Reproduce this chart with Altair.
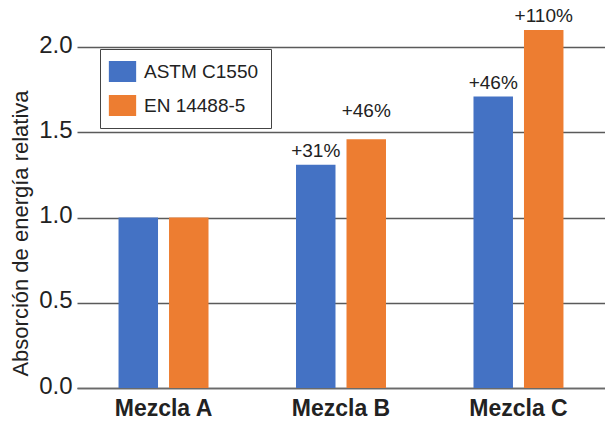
import altair as alt
import pandas as pd

mezclas = ["Mezcla A", "Mezcla B", "Mezcla C"]
normas = ["ASTM C1550", "EN 14488-5"]
astm_values = [1.00, 1.31, 1.71]
en_values = [1.00, 1.46, 2.10]
astm_labels = ["", "+31%", "+46%"]
en_labels = ["", "+46%", "+110%"]
colors = ["#4472C4", "#ED7D31"]

rows = []
for m, v, l in zip(mezclas, astm_values, astm_labels):
    rows.append({"mezcla": m, "norma": normas[0], "valor": v, "etiqueta": l})
for m, v, l in zip(mezclas, en_values, en_labels):
    rows.append({"mezcla": m, "norma": normas[1], "valor": v, "etiqueta": l})
df = pd.DataFrame(rows)

FONT = "Liberation Sans"

x_enc = alt.X("mezcla:N", sort=mezclas,
              scale=alt.Scale(paddingInner=0.493, paddingOuter=0.234),
              axis=alt.Axis(title=None, labelAngle=0, ticks=False, domain=True, grid=False,
                            domainColor="#6a6a6a", domainWidth=1.5,
                            labelFontSize=23, labelFontWeight="bold",
                            labelColor="#222222", labelFont=FONT, labelPadding=9))
xoff = alt.XOffset("norma:N", sort=normas, scale=alt.Scale(paddingInner=0.218, paddingOuter=0))
y_enc = alt.Y("valor:Q", scale=alt.Scale(domain=[0, 2.2], nice=False),
              axis=alt.Axis(values=[0, 0.5, 1.0, 1.5, 2.0], format=".1f",
                            title="Absorción de energía relativa",
                            titleFont=FONT, titleFontSize=22, titleFontWeight="normal",
                            titleColor="#222222", titleAngle=-90, titleX=-57, titleY=220,
                            titleAlign="center", titleBaseline="middle",
                            labelFont=FONT, labelFontSize=24, labelColor="#222222",
                            labelPadding=5, labelOffset=-2, ticks=False, domain=False,
                            grid=True, gridColor="#5a5a5a", gridWidth=1.4))

bars = alt.Chart(df).mark_bar().encode(
    x=x_enc,
    xOffset=xoff,
    y=y_enc,
    color=alt.Color("norma:N", sort=normas,
                    scale=alt.Scale(domain=normas, range=colors),
                    legend=alt.Legend(title=None, orient="none", legendX=23, legendY=36,
                                      fillColor="white", strokeColor="#444444",
                                      padding=12, rowPadding=13,
                                      symbolType="M-1.3,-1H1.3V1H-1.3Z", symbolSize=441,
                                      symbolStrokeWidth=0, symbolOpacity=1,
                                      labelFont=FONT, labelFontSize=19,
                                      labelColor="#222222", labelOffset=11)),
)

text_main = alt.Chart(df).transform_filter(
    "!(datum.mezcla == 'Mezcla B' && datum.norma == 'EN 14488-5')"
).mark_text(font=FONT, fontSize=19, color="#222222", baseline="alphabetic", dy=-8).encode(
    x=x_enc, xOffset=xoff, y=y_enc, text="etiqueta:N")

text_high = alt.Chart(df).transform_filter(
    "datum.mezcla == 'Mezcla B' && datum.norma == 'EN 14488-5'"
).mark_text(font=FONT, fontSize=19, color="#222222", baseline="alphabetic", dy=-22).encode(
    x=x_enc, xOffset=xoff, y=y_enc, text="etiqueta:N")

chart = alt.layer(bars, text_main, text_high).properties(
    width=528, height=375,
    background="white",
    padding={"left": 77, "top": 13, "right": 0, "bottom": 33},
    autosize=alt.AutoSizeParams(type="none"),
).configure_view(stroke=None, strokeWidth=0)

chart.save("out.html", embed_options={"renderer": "svg", "actions": False})
